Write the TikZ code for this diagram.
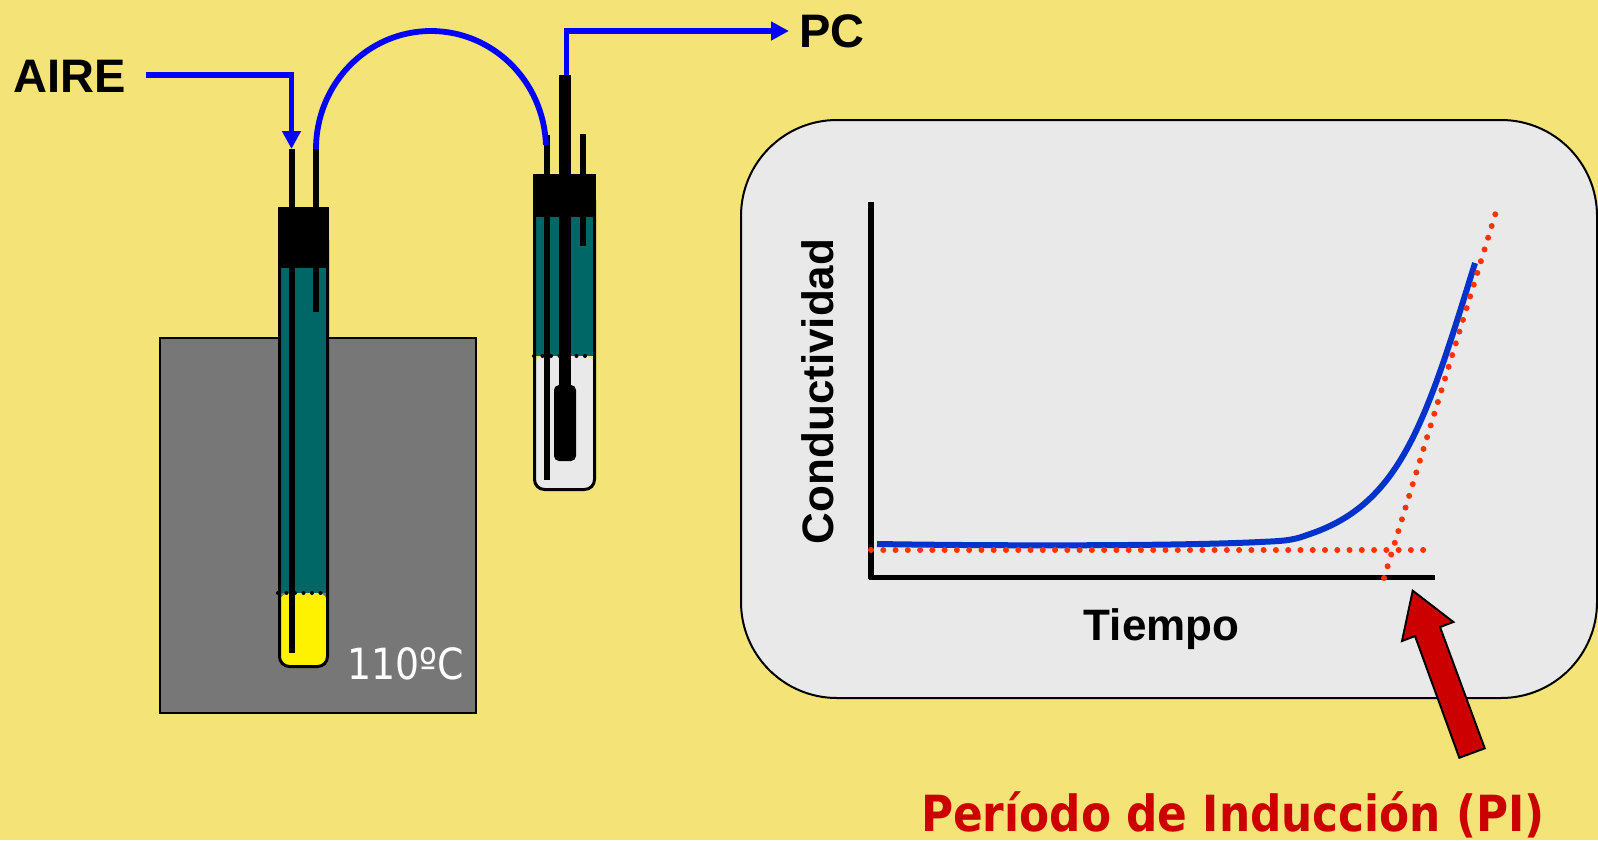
\documentclass[tikz,border=0pt]{standalone}
\usepackage{fontspec}
\setmainfont{Liberation Sans}
\newfontfamily\tahomafont[FakeStretch=0.88]{DejaVu Sans}
\usetikzlibrary{arrows.meta}

\definecolor{paper}{HTML}{F4E376}
\definecolor{block}{HTML}{777777}
\definecolor{liquid}{HTML}{006666}
\definecolor{panel}{HTML}{E9E9E9}
\definecolor{tubeblue}{HTML}{0000FF}
\definecolor{curveblue}{HTML}{0033CC}
\definecolor{dotred}{HTML}{FF3300}
\definecolor{darkred}{HTML}{CC0000}

\tikzset{
    label/.style = {inner sep = 0pt, anchor = base, font = \bfseries\fontsize{23.5}{28}\selectfont},
    axislabel/.style = {inner sep = 0pt, anchor = base, font = \bfseries\fontsize{22}{26}\selectfont},
    hose/.style = {draw = tubeblue, line width = 2.9pt},
    wall/.style = {draw = black, line width = 1.5pt, rounded corners = 5pt},
    pipe/.style = {fill = black},
    level/.style = {draw = black, line width = 2pt, line cap = round, dash pattern = on 0pt off 4.25pt},
    guide/.style = {draw = dotred, line width = 3pt, line cap = round, dash pattern = on 0pt off 6.135pt},
    axisline/.style = {draw = black, line width = 2.9pt}
}

\begin{document}
\begin{tikzpicture}[x = 0.5pt, y = -0.5pt]
        \useasboundingbox (0, 0) rectangle (1598, 840);
        \fill[paper] (0, 0) rectangle (1598, 840);

        \draw[fill = block, line width = 1pt] (160, 338) rectangle (476, 712.5);
        \node[inner sep = 0pt, anchor = base, text = white, font = \tahomafont\fontsize{21.5}{26}\selectfont] (temp) at (405.5, 679) {110ºC};

        \coordinate (leftIn) at (291.5, 149);
        \coordinate (leftOut) at (316, 149);
        \coordinate (rightOut) at (566.5, 75);

        \fill[yellow, rounded corners = 5pt] (279.5, 593) -- (279.5, 666.5) -- (327.5, 666.5) -- (327.5, 593) -- cycle;
        \fill[liquid] (279.5, 268) rectangle (327.5, 593);
        \draw[wall] (279.5, 240) -- (279.5, 666.5) -- (327.5, 666.5) -- (327.5, 240);
        \fill[pipe] (288.7, 149) rectangle (294.7, 653);
        \fill[pipe] (313, 149) rectangle (319, 312);
        \fill[pipe] (278, 207) rectangle (329, 268);
        \draw[level] (278, 593) -- (326, 593);

        \fill[panel, rounded corners = 5pt] (534.5, 356) -- (534.5, 489.5) -- (594.5, 489.5) -- (594.5, 356) -- cycle;
        \fill[liquid] (534.5, 217) rectangle (594.5, 356);
        \draw[wall] (534.5, 200) -- (534.5, 489.5) -- (594.5, 489.5) -- (594.5, 200);
        \fill[pipe] (543.5, 135) rectangle (549.5, 480);
        \fill[pipe] (559, 75) rectangle (571, 390);
        \fill[pipe] (580, 134) rectangle (586, 246);
        \fill[pipe, rounded corners = 2.5pt] (554, 385) rectangle (576, 461);
        \fill[pipe] (533, 174) rectangle (596, 217);
        \draw[level] (534, 356) -- (593, 356);

        \node[label] (aire) at (69.5, 92.5) {AIRE};
        \node[label] (pc) at (832, 48) {PC};

        \coordinate (aireStart) at (146, 75);
        \coordinate (pcEnd) at (789, 31);
        \draw[hose, -{Triangle[width = 9pt, length = 9pt]}] (aireStart) -| (leftIn);
        \draw[hose] (leftOut) arc[start angle = 180, end angle = 2, x radius = 57.5pt, y radius = 59pt];
        \draw[hose, -{Triangle[width = 9pt, length = 9pt]}] (rightOut) |- (pcEnd);

        \draw[fill = panel, line width = 1pt] (741, 120) [rounded corners = 48pt] rectangle (1597, 698);

        \coordinate (yEnd) at (871, 202);
        \coordinate (xEnd) at (1435, 577.5);
        \draw[axisline] (yEnd) -- (871, 579);
        \draw[axisline] (869, 577.5) -- (xEnd);

        \node[axislabel, rotate = 90] (ylabel) at (833, 391.5) {Conductividad};
        \node[axislabel] (xlabel) at (1161.5, 640) {Tiempo};

        \draw[line width = 3pt, draw = curveblue] (877, 544) .. controls (1000, 546) and (1180, 546) .. (1260, 542) .. controls (1280, 541) and (1292, 541) .. (1307, 535) .. controls (1400, 505) and (1425, 425) .. (1475, 263);
        \draw[guide] (871, 550) -- (1424.5, 550);
        \draw[guide] (1384, 578) -- (1495.5, 213.5);

        \draw[fill = darkred, line width = 1pt] (1412.7, 590.7) -- (1453.3, 622) -- (1440, 627) -- (1484.7, 748.3) -- (1459.3, 757.7) -- (1415, 636) -- (1402, 641) -- cycle;
        \node[inner sep = 0pt, anchor = base, text = darkred, font = \tahomafont\bfseries\fontsize{24.9}{30}\selectfont] (period) at (1233, 831) {Período de Inducción (PI)};
      \end{tikzpicture}
\end{document}
